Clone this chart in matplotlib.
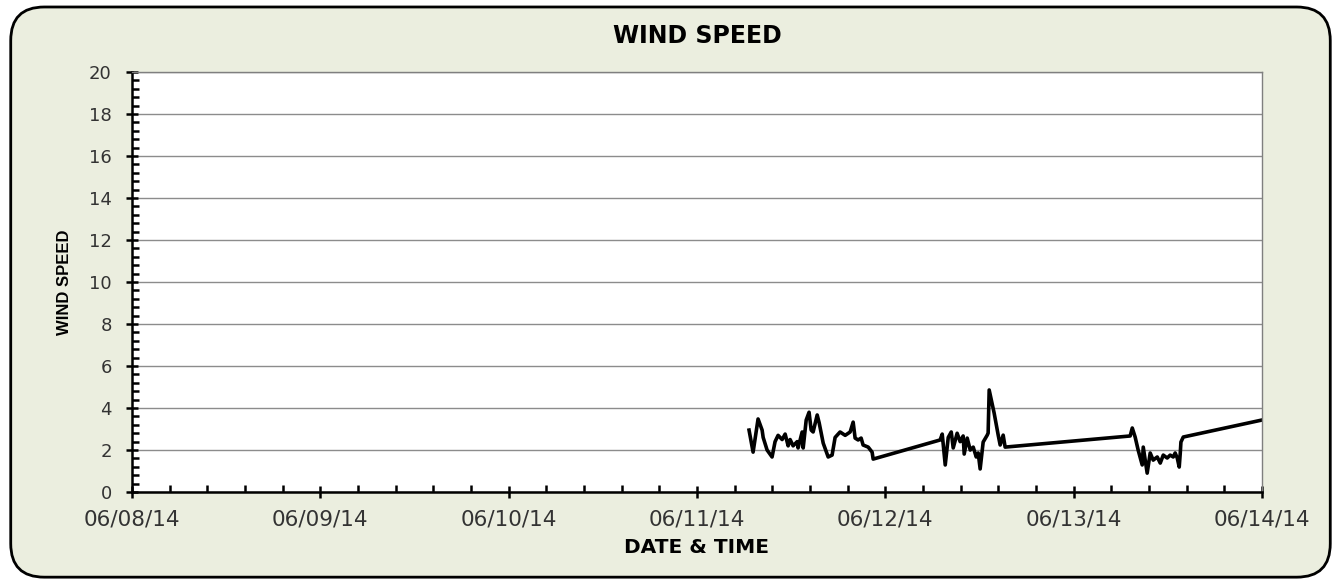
import matplotlib
matplotlib.use("Agg")
import matplotlib.pyplot as plt
import matplotlib.dates as mdates
from matplotlib.patches import FancyBboxPatch
from matplotlib.ticker import MultipleLocator
import pandas as pd

# wind speed readings
times = [
    "2014-06-11 06:38", "2014-06-11 07:09", "2014-06-11 07:47", "2014-06-11 08:18",
    "2014-06-11 08:26", "2014-06-11 08:56", "2014-06-11 09:34", "2014-06-11 09:57",
    "2014-06-11 10:20", "2014-06-11 10:51", "2014-06-11 11:14", "2014-06-11 11:37",
    "2014-06-11 11:52", "2014-06-11 12:15", "2014-06-11 12:46", "2014-06-11 12:53",
    "2014-06-11 13:24", "2014-06-11 13:32", "2014-06-11 13:55", "2014-06-11 14:17",
    "2014-06-11 14:33", "2014-06-11 14:48", "2014-06-11 15:19", "2014-06-11 15:34",
    "2014-06-11 16:05", "2014-06-11 16:43", "2014-06-11 17:13", "2014-06-11 17:36",
    "2014-06-11 18:14", "2014-06-11 18:53", "2014-06-11 19:31", "2014-06-11 19:54",
    "2014-06-11 20:09", "2014-06-11 20:32", "2014-06-11 20:55", "2014-06-11 21:10",
    "2014-06-11 21:49", "2014-06-11 22:19", "2014-06-11 22:27",
    "2014-06-12 06:59", "2014-06-12 07:15", "2014-06-12 07:38", "2014-06-12 08:01",
    "2014-06-12 08:24", "2014-06-12 08:39", "2014-06-12 09:09", "2014-06-12 09:32",
    "2014-06-12 09:55", "2014-06-12 10:03", "2014-06-12 10:26", "2014-06-12 10:49",
    "2014-06-12 11:12", "2014-06-12 11:35", "2014-06-12 11:50", "2014-06-12 12:05",
    "2014-06-12 12:28", "2014-06-12 12:59", "2014-06-12 13:06", "2014-06-12 13:14",
    "2014-06-12 13:52", "2014-06-12 14:23", "2014-06-12 14:38", "2014-06-12 15:01",
    "2014-06-12 15:16",
    "2014-06-13 07:12", "2014-06-13 07:28", "2014-06-13 07:50", "2014-06-13 08:13",
    "2014-06-13 08:44", "2014-06-13 08:52", "2014-06-13 09:22", "2014-06-13 09:45",
    "2014-06-13 10:08", "2014-06-13 10:39", "2014-06-13 11:02", "2014-06-13 11:25",
    "2014-06-13 11:55", "2014-06-13 12:18", "2014-06-13 12:41", "2014-06-13 12:56",
    "2014-06-13 13:12", "2014-06-13 13:27", "2014-06-13 13:35", "2014-06-13 13:40",
    "2014-06-13 13:58", "2014-06-14 00:00",
]
speed = [
    2.95, 1.9, 3.48, 2.95, 2.6, 2.0, 1.67, 2.4, 2.7, 2.5, 2.76, 2.2, 2.5, 2.2,
    2.4, 2.1, 2.86, 2.1, 3.43, 3.8, 2.95, 2.86, 3.67, 3.3, 2.33, 1.67, 1.76,
    2.6, 2.86, 2.7, 2.86, 3.33, 2.57, 2.48, 2.57, 2.24, 2.14, 1.9, 1.57,
    2.48, 2.76, 1.29, 2.6, 2.86, 2.1, 2.8, 2.4, 2.67, 1.81, 2.57, 2.0, 2.14,
    1.67, 1.86, 1.1, 2.38, 2.71, 2.81, 4.86, 3.76, 2.71, 2.24, 2.71, 2.14,
    2.67, 3.05, 2.62, 2.0, 1.29, 2.14, 0.9, 1.86, 1.52, 1.67, 1.38, 1.76,
    1.62, 1.76, 1.67, 1.86, 1.62, 1.19, 1.86, 2.38, 2.62, 3.43,
]
x_start = "2014-06-08"
x_end = "2014-06-14"

t = pd.to_datetime(times)

fig = plt.figure(figsize=(13.41, 5.83), dpi=100)
fig.patch.set_facecolor("white")

# rounded chart-area box, kept behind the axes
box = FancyBboxPatch((0.008, 0.01), 0.984, 0.978,
                     boxstyle="round,pad=0,rounding_size=0.025",
                     transform=fig.transFigure, facecolor="#ebeedf",
                     edgecolor="black", linewidth=2, mutation_aspect=1341 / 583,
                     zorder=-10)
fig.patches.append(box)

ax = fig.add_axes([0.0984, 0.156, 0.8427, 0.7205])
ax.set_facecolor("white")

ax.plot(t, speed, color="black", linewidth=2.6, solid_joinstyle="round")

ax.set_xlim(pd.Timestamp(x_start), pd.Timestamp(x_end))
ax.set_ylim(0, 20)

ax.yaxis.set_major_locator(MultipleLocator(2))
ax.yaxis.set_minor_locator(MultipleLocator(0.4))
ax.xaxis.set_major_locator(mdates.DayLocator())
ax.xaxis.set_minor_locator(MultipleLocator(0.2))
ax.xaxis.set_major_formatter(mdates.DateFormatter("%m/%d/%y"))

ax.grid(axis="y", color="#8c8c8c", linewidth=1)
ax.set_axisbelow(True)

for s in ["left", "bottom"]:
    ax.spines[s].set_color("black")
    ax.spines[s].set_linewidth(1.8)
for s in ["top", "right"]:
    ax.spines[s].set_color("#7f7f7f")
    ax.spines[s].set_linewidth(1)

ax.tick_params(axis="both", which="major", direction="inout", length=9, width=1.8,
               colors="black")
ax.tick_params(axis="both", which="minor", direction="in", length=5, width=1.8)
ax.tick_params(axis="x", labelsize=15.5, labelcolor="#333333", pad=8)
ax.tick_params(axis="y", labelsize=13, labelcolor="#333333", pad=10)

ax.set_title("WIND SPEED", fontsize=17, fontweight="bold", pad=21)
ax.set_xlabel("DATE & TIME", fontsize=14.5, fontweight="bold", labelpad=6)
ax.set_ylabel("WIND SPEED", fontsize=12, fontweight="bold",
              family=["Liberation Sans Narrow", "Liberation Sans", "DejaVu Sans"],
              labelpad=12)

fig.savefig("out.png", dpi=100)
